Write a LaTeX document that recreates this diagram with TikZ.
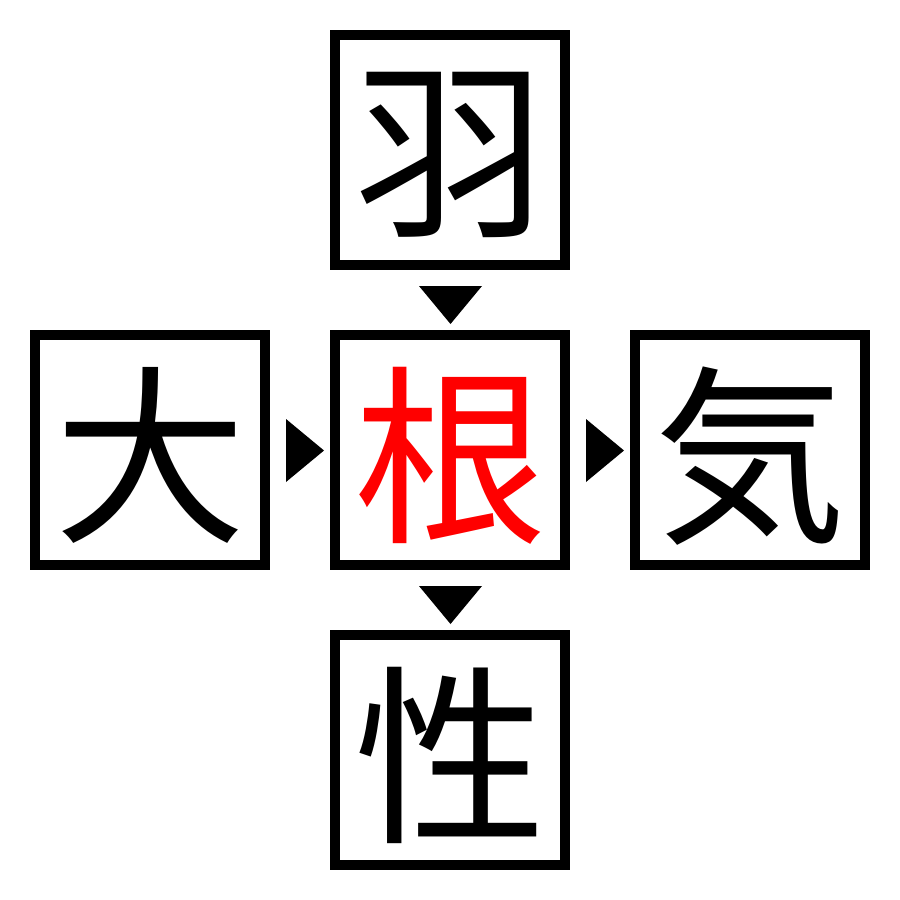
\documentclass[tikz,border=0pt]{standalone}
\usepackage{fontspec}
\usetikzlibrary{calc}
\newfontfamily\cjk{Noto Sans CJK JP}
\begin{document}
\begin{tikzpicture}[x=1pt,y=-1pt,
  kbox/.style={draw=black,line width=10pt,minimum size=230pt,inner sep=0pt,
    font=\cjk\fontsize{192pt}{192pt}\selectfont, text depth=0pt},
  tri/.style={fill=black,draw=none}]
\useasboundingbox (0,0) rectangle (900,900);
\node[kbox] (top) at (450,150) {\raisebox{5pt}{羽}};
\node[kbox,text=red] (mid) at (450,450) {\raisebox{5pt}{根}};
\node[kbox] (left) at (150,450) {\raisebox{5pt}{大}};
\node[kbox] (right) at (750,450) {\raisebox{5pt}{気}};
\node[kbox] (bot) at (450,750) {\raisebox{5pt}{性}};
% triangles between boxes
\path[tri] ($(top.south)+(-31,16)$) -- ($(top.south)+(32,16)$) -- ($(mid.north)+(0.5,-6)$) -- cycle;
\path[tri] ($(mid.south)+(-31,16)$) -- ($(mid.south)+(32,16)$) -- ($(bot.north)+(0.5,-6)$) -- cycle;
\path[tri] ($(left.east)+(16,-31)$) -- ($(left.east)+(16,32)$) -- ($(mid.west)+(-6,0.5)$) -- cycle;
\path[tri] ($(mid.east)+(16,-31)$) -- ($(mid.east)+(16,32)$) -- ($(right.west)+(-6,0.5)$) -- cycle;
\end{tikzpicture}
\end{document}
